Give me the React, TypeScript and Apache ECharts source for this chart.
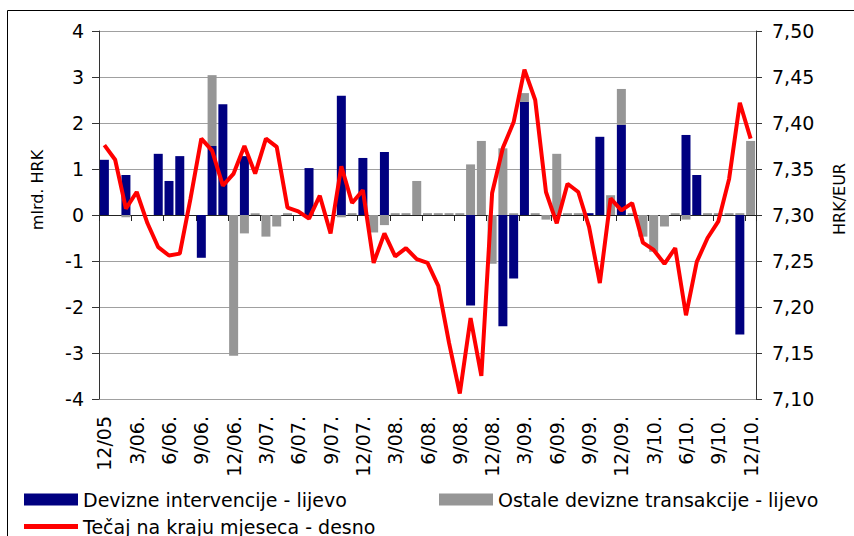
import React, { useEffect, useRef } from "react";
import * as echarts from "echarts";

const categories = [
  "12/05",
  "1/06.", "2/06.", "3/06.", "4/06.", "5/06.", "6/06.", "7/06.", "8/06.", "9/06.", "10/06.", "11/06.", "12/06.",
  "1/07.", "2/07.", "3/07.", "4/07.", "5/07.", "6/07.", "7/07.", "8/07.", "9/07.", "10/07.", "11/07.", "12/07.",
  "1/08.", "2/08.", "3/08.", "4/08.", "5/08.", "6/08.", "7/08.", "8/08.", "9/08.", "10/08.", "11/08.", "12/08.",
  "1/09.", "2/09.", "3/09.", "4/09.", "5/09.", "6/09.", "7/09.", "8/09.", "9/09.", "10/09.", "11/09.", "12/09.",
  "1/10.", "2/10.", "3/10.", "4/10.", "5/10.", "6/10.", "7/10.", "8/10.", "9/10.", "10/10.", "11/10.", "12/10.",
];

const intervencije = [
  1.2, 0, 0.87, 0, 0, 1.33, 0.74, 1.28, 0, -0.93, 1.5, 2.41,
  0, 1.28, 0, 0, 0, 0, 0, 1.02, 0, 0, 2.59, 0,
  1.24, 0, 1.37, 0, 0, 0, 0, 0, 0, 0, -1.97, 0,
  0, -2.42, -1.38, 2.46, 0, 0, 0, 0, 0, 0.04, 1.7, 0,
  1.96, 0, 0, 0, 0, 0, 1.74, 0.87, 0, 0, 0, -2.6,
  0,
];

const ostale = [
  0, 0, -0.05, 0, 0, 0, 0, 0, 0, 0, 1.54, 0,
  -3.06, -0.4, 0.04, -0.47, -0.25, 0.04, 0, 0, 0, 0, -0.05, 0.04,
  0, -0.38, -0.22, 0.04, 0.04, 0.74, 0.04, 0.04, 0.04, 0.04, 1.1, 1.61,
  -1.06, 1.45, 0.04, 0.19, 0.04, -0.1, 1.33, 0.04, 0.04, 0, 0, 0.43,
  0.78, 0.04, -0.47, -0.8, -0.25, 0.04, -0.1, 0, 0.04, 0.04, 0.04, 0.04,
  1.61,
];

const tecaj = [
  7.376, 7.36, 7.307, 7.325, 7.291, 7.265, 7.256, 7.258, 7.318, 7.383, 7.37, 7.332,
  7.345, 7.375, 7.345, 7.383, 7.374, 7.308, 7.304, 7.296, 7.321, 7.28, 7.353, 7.313,
  7.327, 7.248, 7.28, 7.255, 7.264, 7.252, 7.248, 7.223, 7.161, 7.106, 7.188, 7.125,
  7.324, 7.373, 7.401, 7.458, 7.425, 7.325, 7.291, 7.334, 7.325, 7.287, 7.226, 7.318,
  7.305, 7.313, 7.27, 7.262, 7.247, 7.264, 7.191, 7.249, 7.275, 7.293, 7.339, 7.422,
  7.383,
];

const seriesNames = [
  "Devizne intervencije - lijevo",
  "Ostale devizne transakcije - lijevo",
  "Tečaj na kraju mjeseca - desno",
];

const axisNames = ["mlrd. HRK", "HRK/EUR"];

const FONT = "DejaVu Sans";

export default function App() {
  const ref = useRef<HTMLDivElement>(null);

  useEffect(() => {
    if (!ref.current) return;
    const chart = echarts.init(ref.current, null, { renderer: "svg" });
    const legendText = { color: "#000", fontSize: 19, fontFamily: FONT };
    chart.setOption({
      animation: false,
      backgroundColor: "#fff",
      grid: { left: 99, right: 98, top: 31, bottom: 137, containLabel: false },
      legend: [
        {
          data: [{ name: seriesNames[0], icon: "rect" }],
          left: 24, top: 490, padding: 0,
          itemWidth: 54, itemHeight: 12, textStyle: legendText,
          selectedMode: false,
        },
        {
          data: [{ name: seriesNames[1], icon: "rect" }],
          left: 439, top: 490, padding: 0,
          itemWidth: 54, itemHeight: 12, textStyle: legendText,
          selectedMode: false,
        },
        {
          data: [{ name: seriesNames[2], icon: "rect" }],
          left: 24, top: 517, padding: 0,
          itemWidth: 54, itemHeight: 5, textStyle: legendText,
          selectedMode: false,
        },
      ],
      xAxis: [
        {
          type: "category",
          data: categories,
          position: "bottom",
          boundaryGap: true,
          axisLine: { show: false, onZero: false },
          axisTick: { show: false },
          splitLine: { show: false },
          axisLabel: {
            interval: 2,
            rotate: 90,
            margin: 17,
            color: "#000",
            fontSize: 19,
            fontFamily: FONT,
          },
        },
        {
          type: "category",
          data: categories,
          position: "top",
          boundaryGap: true,
          axisLine: { show: true, onZero: true, lineStyle: { color: "#222", width: 1 } },
          axisTick: { show: true, inside: true, interval: 2, length: 6, lineStyle: { color: "#222" } },
          axisLabel: { show: false },
          splitLine: { show: false },
        },
      ],
      yAxis: [
        {
          type: "value",
          min: -4,
          max: 4,
          interval: 1,
          position: "left",
          axisLine: { show: true, lineStyle: { color: "#333", width: 1 } },
          axisTick: { show: true, length: 7, lineStyle: { color: "#333" } },
          axisLabel: { margin: 15, color: "#000", fontSize: 19, fontFamily: FONT },
          splitLine: { show: true, lineStyle: { color: "#a0a0a0", width: 1 } },
        },
        {
          type: "value",
          min: 7.1,
          max: 7.5,
          interval: 0.05,
          position: "right",
          axisLine: { show: true, lineStyle: { color: "#333", width: 1 } },
          axisTick: { show: true, length: 6, lineStyle: { color: "#333" } },
          axisLabel: {
            margin: 16,
            color: "#000",
            fontSize: 19,
            fontFamily: FONT,
            formatter: (v: number) => v.toFixed(2).replace(".", ","),
          },
          splitLine: { show: false },
        },
      ],
      series: [
        {
          name: seriesNames[0],
          type: "bar",
          stack: "fx",
          xAxisIndex: 0,
          yAxisIndex: 0,
          barWidth: 9,
          data: intervencije,
          itemStyle: { color: "#000080" },
        },
        {
          name: seriesNames[1],
          type: "bar",
          stack: "fx",
          xAxisIndex: 0,
          yAxisIndex: 0,
          barWidth: 9,
          data: ostale,
          itemStyle: { color: "#969696" },
        },
        {
          name: seriesNames[2],
          type: "line",
          xAxisIndex: 0,
          yAxisIndex: 1,
          data: tecaj,
          symbol: "none",
          z: 5,
          lineStyle: { color: "#ff0000", width: 4 },
          itemStyle: { color: "#ff0000" },
        },
      ],
      graphic: [
        {
          type: "rect",
          shape: { x: 7.5, y: 10.5, width: 900, height: 600 },
          style: { fill: "none", stroke: "#000", lineWidth: 1 },
          silent: true,
        },
        {
          type: "text",
          x: 37,
          y: 190,
          rotation: Math.PI / 2,
          style: {
            text: axisNames[0],
            fill: "#000",
            fontSize: 16,
            fontFamily: FONT,
            align: "center",
            verticalAlign: "middle",
          },
        },
        {
          type: "text",
          x: 839,
          y: 199,
          rotation: Math.PI / 2,
          style: {
            text: axisNames[1],
            fill: "#000",
            fontSize: 16,
            fontFamily: FONT,
            align: "center",
            verticalAlign: "middle",
          },
        },
      ],
    });
    return () => chart.dispose();
  }, []);

  return (
    <div
      ref={ref}
      style={{ position: "fixed", left: 0, top: 0, width: 854, height: 536, background: "#fff" }}
    />
  );
}
